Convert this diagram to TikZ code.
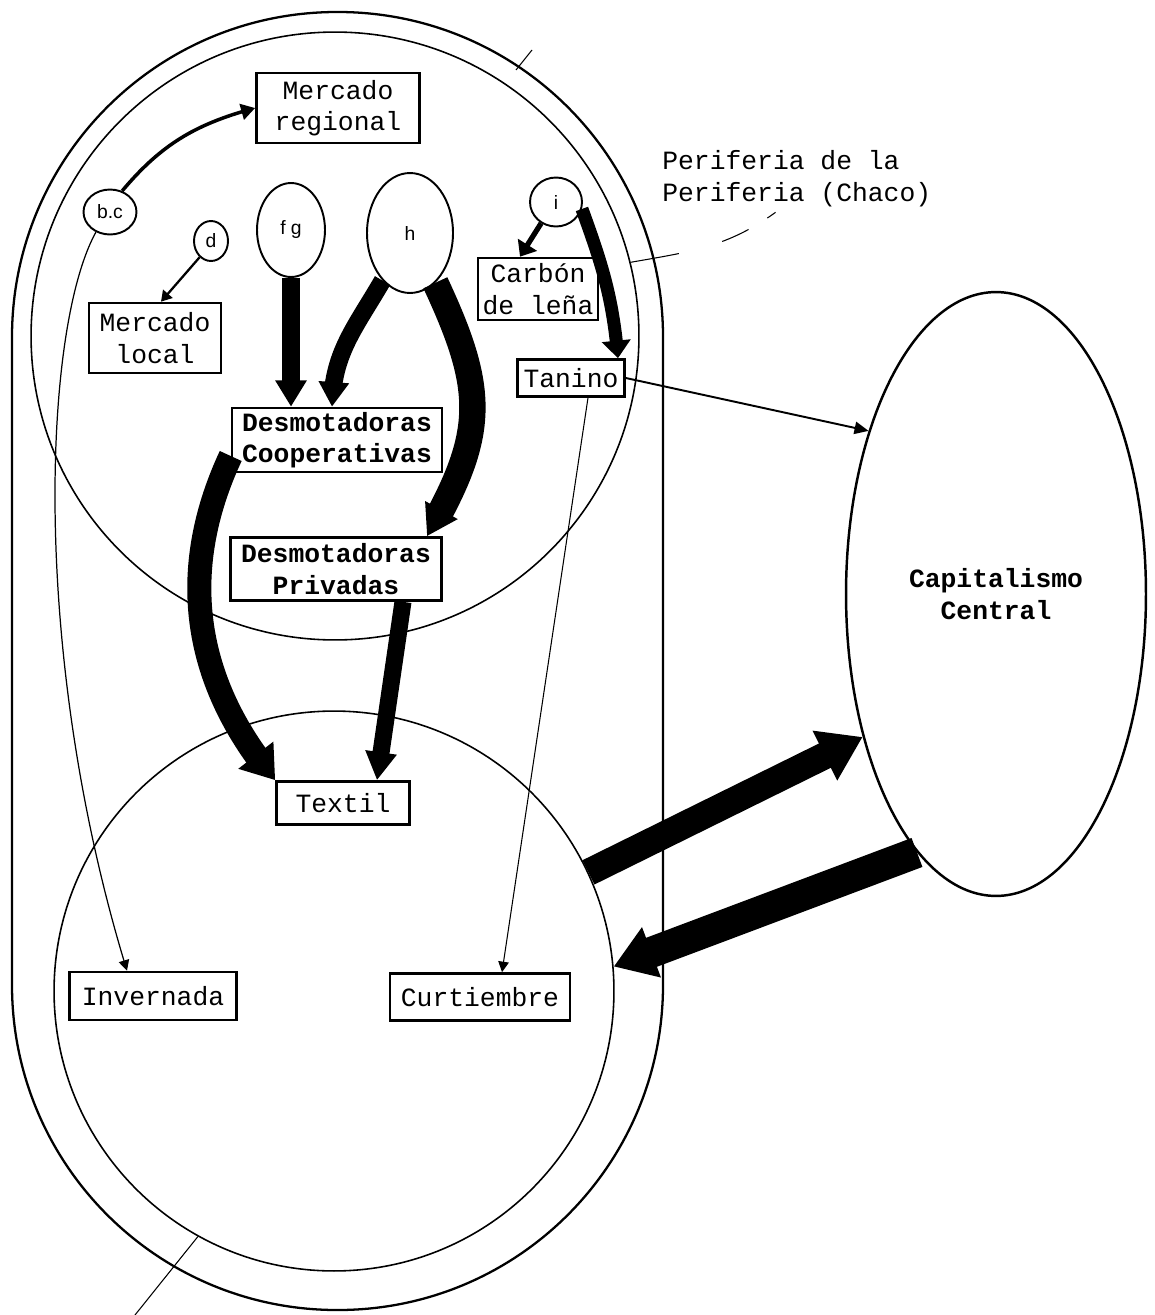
\documentclass[tikz,border=0pt]{standalone}
\usepackage{fontspec}
\setmonofont{Liberation Mono}
\setsansfont{Liberation Sans}
\usetikzlibrary{shapes.geometric,arrows.meta,bending}
\newcommand{\boxfont}{\fontsize{15}{18}\selectfont\ttfamily}
\newcommand{\spotfont}{\fontsize{11}{13}\selectfont\sffamily}

\begin{document}
\begin{tikzpicture}[
  x=0.02cm, y=-0.02cm,
  box/.style={rectangle, draw, line width=1.5pt, inner sep=1pt, align=center, font=\boxfont},
  boxb/.style={box, font=\boxfont\bfseries},
  spot/.style={ellipse, draw, line width=1.1pt, inner sep=0pt, font=\spotfont},
  zone/.style={circle, draw, line width=0.9pt, inner sep=0pt},
  flow/.style n args={3}{line width=#1, -{Triangle[length=#2, width=#3]}},
  leader/.style={line width=0.6pt},
]
  \useasboundingbox (0,0) rectangle (1155,1315);
  \draw[line width=1.3pt, rounded corners=6.5cm] (12,12) rectangle (663,1310);

  \node[zone, minimum size=12.16cm] (uppc) at (335,336) {};
  \node[zone, minimum size=11.2cm] (lowc) at (334,991) {};
  \node[ellipse, draw, line width=1.4pt, minimum width=6cm, minimum height=12.08cm,
        inner sep=0pt, align=center, font=\boxfont\bfseries] (capital) at (996,594) {Capitalismo\\Central};
  \node[font=\boxfont, align=left, anchor=north west, inner sep=0pt] (chaco) at (662,150) {Periferia de la\\Periferia (Chaco)};

  \node[spot, minimum width=1.06cm, minimum height=0.9cm] (bc) at (110,212) {b.c};
  \node[spot, minimum width=0.68cm, minimum height=0.8cm] (d) at (211,241) {d};
  \node[spot, minimum width=1.36cm, minimum height=1.88cm] (fg) at (291,230) {f g};
  \node[spot, minimum width=1.72cm, minimum height=2.4cm] (h) at (410,233) {h};
  \node[spot, minimum width=1.04cm, minimum height=0.98cm] (i) at (556,202) {i};

  \node[box, minimum width=3.26cm, minimum height=1.4cm] (mreg) at (338,108) {Mercado\\regional};
  \node[box, minimum width=2.64cm, minimum height=1.4cm] (mloc) at (155,338) {Mercado\\local};
  \node[box, minimum width=2.4cm, minimum height=1.24cm] (carbon) at (538,289) {Carbón\\de leña};
  \node[box, minimum width=2.14cm, minimum height=0.74cm] (tanino) at (571,378) {Tanino};
  \node[boxb, minimum width=4.2cm, minimum height=1.28cm] (dcoop) at (337,440) {Desmotadoras\\Cooperativas};
  \node[boxb, minimum width=4.22cm, minimum height=1.26cm] (dpriv) at (336,569) {Desmotadoras\\Privadas};
  \node[box, minimum width=2.66cm, minimum height=0.86cm] (textil) at (343,803) {Textil};
  \node[box, minimum width=3.34cm, minimum height=0.96cm] (invern) at (153,996) {Invernada};
  \node[box, minimum width=3.6cm, minimum height=0.94cm] (curt) at (480,997) {Curtiembre};

  \draw[flow={2pt}{8pt}{9pt}] (bc.60) to[out=50, in=195] (mreg.west);
  \draw[flow={1.3pt}{6pt}{7pt}] (d.235) -- ([xshift=0.12cm]mloc.north);
  \draw[flow={10pt}{15pt}{17pt}] (fg.south) -- (fg.south |- dcoop.north);
  \draw[flow={10pt}{14pt}{16.5pt}] (h.240) to[out=240, in=90] ([xshift=-0.1cm]dcoop.north);
  \draw[flow={15pt}{17pt}{20pt}] (h.-63) to[out=-65, in=60, looseness=1.2] ([xshift=1.82cm]dpriv.north);
  \draw[flow={3pt}{8pt}{12.5pt}] (i.235) -- ([xshift=-0.36cm]carbon.north);
  \draw[flow={7.4pt}{10pt}{16pt}] (i.-15) to[out=-70, in=95] ([xshift=0.94cm]tanino.north);
  \draw[flow={13.7pt}{18pt}{24pt}] ([yshift=-0.32cm]dcoop.west) to[out=245, in=130] (textil.north west);
  \draw[flow={9.7pt}{16pt}{17pt}] ([xshift=1.34cm]dpriv.south) -- ([xshift=0.68cm]textil.north);
  \draw[flow={1.1pt}{8pt}{7pt}] (tanino.east) -- (capital.128);
  \draw[flow={0.6pt}{6pt}{6pt}] ([xshift=0.34cm]tanino.south) -- ([xshift=0.44cm]curt.north);
  \draw[flow={0.7pt}{6pt}{6pt}] (bc.235) .. controls +(-53,96) and +(-97,-315) .. ([xshift=-0.52cm]invern.north);
  \draw[flow={15.4pt}{24pt}{30pt}] (lowc.25) -- (capital.227);
  \draw[flow={17.6pt}{23pt}{29pt}] (capital.253) -- (lowc.5);

  \coordinate (chacotag) at (776,212);
  \coordinate (lowtag) at (135,1315);
  \draw[leader, dash pattern=on 0.98cm off 0.9cm on 0.58cm off 0.44cm on 0.2cm] (uppc.14) to[out=10, in=216] (chacotag);
  \draw[leader] (lowc.241) -- (lowtag);
  \draw[leader] (516,70) -- (532,50);
\end{tikzpicture}
\end{document}
